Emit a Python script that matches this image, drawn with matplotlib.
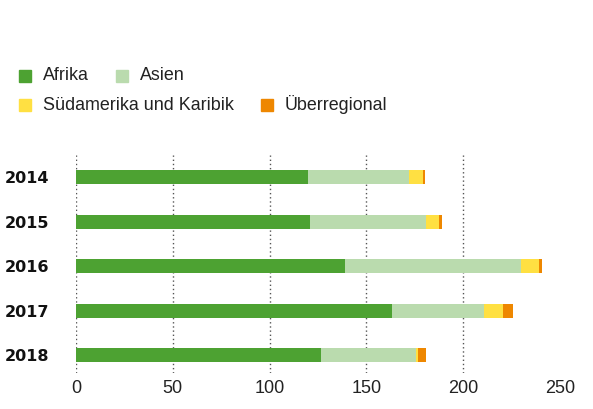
import numpy as np
import matplotlib
matplotlib.use('Agg')
import matplotlib.pyplot as plt
from matplotlib.patches import Rectangle

plt.rcParams['font.family'] = ['Liberation Sans', 'DejaVu Sans']

# Daten
jahre = ['2014', '2015', '2016', '2017', '2018']
afrika = [120, 121, 139, 163, 126.3]
asien = [52, 60, 91, 47.5, 49.5]
suedamerika = [7.2, 6.7, 9, 10, 1]
ueberregional = [1, 1.5, 1.5, 5, 4]
serien = ['Afrika', 'Asien', 'Südamerika und Karibik', 'Überregional']
farben = ['#4DA232', '#BADBAE', '#FFE042', '#EE8700']
xticks = [0, 50, 100, 150, 200, 250]

fig = plt.figure(figsize=(5.93, 4.09), dpi=100)
W, H = 593, 409
ax = fig.add_axes([76 / W, 1 - 373 / H, (560 - 76) / W, (373 - 155) / H])

y = np.arange(len(jahre))
links = np.zeros(len(jahre))
for werte, farbe, name in zip([afrika, asien, suedamerika, ueberregional], farben, serien):
    ax.barh(y, werte, left=links, height=0.315, color=farbe, label=name, zorder=2)
    links = links + np.array(werte)

# gepunktete Gitterlinien (ohne 250)
for t in xticks[:-1]:
    ax.axvline(t, color='#555555', linestyle=(0, (1, 2)), linewidth=1, zorder=1)

ax.set_xlim(0, 250)
ax.set_ylim(4.4, -0.5)
ax.set_xticks(xticks)
ax.set_xticklabels([str(t) for t in xticks], fontsize=13, color='#222222')
ax.set_yticks(y)
ax.set_yticklabels(jahre, fontsize=11.5, fontweight='bold', color='#111111',
                   family='DejaVu Sans')
for lab in ax.get_yticklabels():
    lab.set_horizontalalignment('left')
ax.tick_params(axis='y', length=0, pad=51)
ax.tick_params(axis='x', length=0, pad=5)
for s in ax.spines.values():
    s.set_visible(False)

# Legende von Hand
eintraege = [(19, 76, 0), (116, 76, 1), (19, 105, 2), (261, 105, 3)]
for px, py, i in eintraege:
    fig.patches.append(Rectangle((px / W, 1 - (py + 6) / H), 12 / W, 12 / H,
                                 transform=fig.transFigure, color=farben[i]))
    fig.text((px + 24) / W, 1 - py / H, serien[i], fontsize=12.9, color='#222222',
             va='center', ha='left')

fig.savefig('out.png', dpi=100)
